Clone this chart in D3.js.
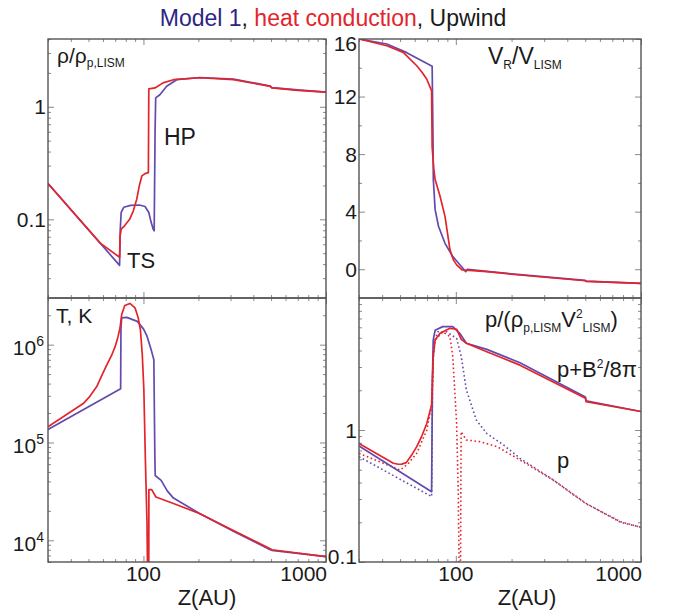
<!DOCTYPE html>
<html>
<head>
<meta charset="utf-8">
<script src="https://cdn.jsdelivr.net/npm/d3@7"></script>
<style>
  body { margin: 0; background: #fff; }
  svg { display: block; }
  text { font-family: "Liberation Sans", Arial, sans-serif; fill: #1a1a1a; }
</style>
</head>
<body>
<div id="chart"></div>
<script>
// values: [Z (AU), value]
const rhoModel = [[30,0.208],[74,0.039],[74.6,0.08],[75.5,0.115],[78,0.128],[85,0.133],[95,0.134],[102,0.13],[107,0.115],[110,0.095],[113,0.082],[114.5,0.079],[115.8,0.6],[116.7,1.2],[123,1.28],[134,1.52],[152,1.74],[204,1.82],[311,1.76],[495,1.53],[505,1.48],[700,1.41],[1000,1.35]];
const rhoHeat = [[30,0.208],[58,0.0614],[74,0.046],[74.4,0.07],[75.5,0.082],[79,0.088],[84,0.1],[88,0.119],[91.9,0.151],[95,0.2],[98,0.243],[102,0.255],[106.4,0.26],[107,1.44],[115.8,1.47],[128,1.63],[146,1.74],[204,1.81],[311,1.74],[495,1.52],[505,1.47],[700,1.4],[1000,1.35]];

const velModel = [[30,16],[42.4,15.65],[54,15.07],[74.5,14.1],[75.3,9],[75.6,6.23],[77.3,4.14],[80.7,2.97],[87.4,1.8],[96.3,0.88],[108,0.14],[113,-0.17],[116,0.0],[147,-0.15],[222,-0.38],[501,-0.78],[505,-0.83],[1000,-0.98]];
const velHeat = [[30,16],[42.4,15.53],[52,15.07],[61.5,14.14],[66,13.65],[69.7,13.2],[74,12.4],[74.5,8.5],[76,7.0],[77.3,6.23],[82.2,5.07],[87.4,3.67],[93,1.35],[97,0.65],[101,0.3],[108,-0.05],[147,-0.17],[222,-0.4],[501,-0.8],[505,-0.85],[1000,-0.98]];

const tempModel = [[30,1.36e5],[75,3.54e5],[75.3,1.5e6],[76,1.88e6],[81,1.9e6],[92.5,1.73e6],[100,1.45e6],[104.6,1.22e6],[110,9e5],[114,7e5],[115.5,7e4],[116,4.6e4],[125,4.1e4],[135,3.2e4],[146,2.7e4],[204,1.87e4],[311,1.24e4],[495,8e3],[505,7.9e3],[1000,6.8e3]];
const tempHeat = [[30,1.45e5],[46.8,2.5e5],[51,2.98e5],[55.5,3.73e5],[59,4.8e5],[63,6.2e5],[67,7.8e5],[70,9.6e5],[72.5,1.2e6],[74.4,1.48e6],[76,2.03e6],[79,2.51e6],[84.3,2.64e6],[89.9,2.38e6],[93.5,1.9e6],[96.2,1.43e6],[98.5,8e5],[100.5,3.5e5],[102.4,7e4],[104.6,1.48e4],[105.8,2e3],[106.4,1e3],[106.9,2e3],[107.1,3.3e4],[111,3.3e4],[117,2.77e4],[146,2.38e4],[204,1.87e4],[311,1.26e4],[495,8.2e3],[505,8e3],[1000,6.8e3]];

const ptotModel = [[30,0.757],[74,0.341],[74.8,2.5],[75.5,4.8],[77.3,5.7],[85,6.07],[96.3,6.07],[105,5.4],[114,4.54],[147,4.08],[222,3.23],[501,1.78],[505,1.66],[1000,1.38]];
const ptotHeat = [[30,0.79],[46,0.56],[48.9,0.55],[51,0.552],[54,0.566],[57.5,0.64],[61.5,0.748],[65.5,0.9],[69.7,1.12],[74,1.55],[74.7,2.26],[75.5,3.6],[77.3,4.8],[82.2,5.4],[93,5.89],[101,5.8],[107,4.86],[114,4.54],[147,3.92],[222,3.1],[501,1.74],[505,1.64],[1000,1.38]];
const pModel = [[30,0.628],[74,0.313],[74.8,2.0],[76,4.5],[80,5.55],[89,5.55],[101,4.95],[107,3.6],[114,2.01],[129,1.19],[147,0.94],[181,0.77],[222,0.61],[335,0.42],[501,0.28],[775,0.2],[1000,0.183]];
const pHeat = [[30,0.666],[50,0.497],[55,0.55],[61.5,0.666],[69.7,1.0],[74,1.55],[75.5,3.6],[77.3,4.8],[85,5.55],[93,5.09],[96.3,3.59],[101,1.12],[103,0.35],[104.3,0.08],[106,0.08],[106.8,0.97],[114,0.84],[135,0.816],[167,0.748],[222,0.593],[335,0.418],[501,0.278],[775,0.202],[1000,0.183]];

const zLabels = [100, 1000];
const rhoLabels = [1, 0.1];
const velLabels = [0, 4, 8, 12, 16];
const velMinor = [-2, 2, 6, 10, 14];
const tempLabels = [6, 5, 4];   // powers of ten
const presLabels = [1, 0.1];

const W = 676, H = 613;
const blue = "#6449ae", red = "#e3252b";
const frameCol = "#555", tickCol = "#8a8a8a";

const svg = d3.select("#chart").append("svg")
    .attr("width", W)
    .attr("height", H);

const xLeft = d3.scaleLog().domain([30, 1000]).range([48, 326]);
const xRight = d3.scaleLog().domain([30, 1000]).range([359, 641]);
const yRho = d3.scaleLog().domain([0.02, 4]).range([298, 39]);
const yVel = d3.scaleLinear().domain([-2, 16]).range([298, 39]);
const yTemp = d3.scaleLog().domain([6e3, 3e6]).range([562, 298]);
const yPres = d3.scaleLog().domain([0.1, 10]).range([562, 298]);

const isDecade = v => Math.abs(Math.log10(v) - Math.round(Math.log10(v))) < 1e-6;

function ticksOnEdges(g, x, y, yMajor, yMinor) {
    const [x0, x1] = x.range();
    const [y1, y0] = y.range();
    const xt = x.ticks();
    const xMajor = xt.filter(isDecade), xMinor = xt.filter(v => !isDecade(v));
    const sets = [[xMajor, 6, yMajor, 6], [xMinor, 3, yMinor, 3]];
    sets.forEach(([xv, xs, yv, ys]) => {
        g.append("g").attr("transform", `translate(0,${y1})`)
            .call(d3.axisBottom(x).tickValues(xv).tickSize(-xs).tickFormat(""));
        g.append("g").attr("transform", `translate(0,${y0})`)
            .call(d3.axisTop(x).tickValues(xv).tickSize(-xs).tickFormat(""));
        g.append("g").attr("transform", `translate(${x0},0)`)
            .call(d3.axisLeft(y).tickValues(yv).tickSize(-ys).tickFormat(""));
        g.append("g").attr("transform", `translate(${x1},0)`)
            .call(d3.axisRight(y).tickValues(yv).tickSize(-ys).tickFormat(""));
    });
    g.selectAll(".domain").remove();
    g.selectAll(".tick line").attr("stroke", tickCol).attr("stroke-width", 1);
}

function panel(id, x, y, yMajor, yMinor, series) {
    const [x0, x1] = x.range();
    const [y1, y0] = y.range();
    const g = svg.append("g");
    g.append("clipPath").attr("id", id)
        .append("rect").attr("x", x0).attr("y", y0).attr("width", x1 - x0).attr("height", y1 - y0);
    ticksOnEdges(g, x, y, yMajor, yMinor);
    const line = d3.line().x(d => x(d[0])).y(d => y(d[1]));
    const lg = g.append("g").attr("clip-path", `url(#${id})`);
    series.forEach(s => {
        lg.append("path")
            .datum(s.data)
            .attr("d", line)
            .attr("fill", "none")
            .attr("stroke", s.color)
            .attr("stroke-width", s.dotted ? 1.6 : 1.7)
            .attr("stroke-dasharray", s.dotted ? "1.6,2.6" : null)
            .attr("stroke-linejoin", "round");
    });
    g.append("rect")
        .attr("x", x0).attr("y", y0)
        .attr("width", x1 - x0).attr("height", y1 - y0)
        .attr("fill", "none")
        .attr("stroke", frameCol)
        .attr("stroke-width", 1.4);
    return g;
}

function yLabel(x, y, v, txt) {
    const [y1, y0] = y.range();
    const yy = Math.max(y0 + 4, Math.min(y1 - 6, y(v)));
    return svg.append("text")
        .attr("x", x.range()[0] - 2)
        .attr("y", yy)
        .attr("dy", "0.36em")
        .attr("text-anchor", "end")
        .attr("font-size", 21)
        .text(txt);
}

// density
const rhoTicks = yRho.ticks();
panel("c1", xLeft, yRho, rhoTicks.filter(isDecade), rhoTicks.filter(v => !isDecade(v)), [
    { data: rhoModel, color: blue },
    { data: rhoHeat, color: red }
]);
rhoLabels.forEach(v => yLabel(xLeft, yRho, v, String(v)));

// velocity
panel("c2", xRight, yVel, velLabels, velMinor, [
    { data: velModel, color: blue },
    { data: velHeat, color: red }
]);
velLabels.forEach(v => yLabel(xRight, yVel, v, String(v)));

// temperature
const tTicks = yTemp.ticks();
panel("c3", xLeft, yTemp, tTicks.filter(isDecade), tTicks.filter(v => !isDecade(v)), [
    { data: tempModel, color: blue },
    { data: tempHeat, color: red }
]);
tempLabels.forEach(e => {
    const t = svg.append("text")
        .attr("x", 48 - 4)
        .attr("y", yTemp(Math.pow(10, e)))
        .attr("dy", "0.5em")
        .attr("text-anchor", "end")
        .attr("font-size", 21);
    t.append("tspan").text("10");
    t.append("tspan").attr("font-size", 14).attr("dy", -9).text(e);
});

// pressure
const pTicks = yPres.ticks();
panel("c4", xRight, yPres, pTicks.filter(isDecade), pTicks.filter(v => !isDecade(v)), [
    { data: pModel, color: blue, dotted: true },
    { data: pHeat, color: red, dotted: true },
    { data: ptotModel, color: blue },
    { data: ptotHeat, color: red }
]);
presLabels.forEach(v => yLabel(xRight, yPres, v, String(v)));

// x tick labels and titles
[xLeft, xRight].forEach((x, i) => {
    zLabels.forEach(v => {
        svg.append("text")
            .attr("x", v === 1000 ? x(v) + 1 : x(v))
            .attr("y", 581)
            .attr("text-anchor", v === 1000 ? "end" : "middle")
            .attr("font-size", 21)
            .text(v);
    });
    svg.append("text")
        .attr("x", i === 0 ? 207 : 527)
        .attr("y", 605)
        .attr("text-anchor", "middle")
        .attr("font-size", 22)
        .text("Z(AU)");
});

// title
const title = svg.append("text")
    .attr("x", 333).attr("y", 26)
    .attr("text-anchor", "middle")
    .attr("font-size", 23);
title.append("tspan").style("fill", "#2d2583").text("Model 1");
title.append("tspan").text(", ");
title.append("tspan").style("fill", red).text("heat conduction");
title.append("tspan").text(", Upwind");

// panel annotations
const a1 = svg.append("text").attr("x", 57).attr("y", 63).attr("font-size", 21);
a1.append("tspan").text("ρ/ρ");
a1.append("tspan").attr("font-size", 12).attr("dy", 4).text("p,LISM");

svg.append("text").attr("x", 164).attr("y", 145).attr("font-size", 23).text("HP");
svg.append("text").attr("x", 127).attr("y", 268).attr("font-size", 22).text("TS");

const a2 = svg.append("text").attr("x", 488).attr("y", 64).attr("font-size", 23);
a2.append("tspan").text("V");
a2.append("tspan").attr("font-size", 12).attr("dy", 5).text("R");
a2.append("tspan").attr("dy", -5).text("/V");
a2.append("tspan").attr("font-size", 12).attr("dy", 5).text("LISM");

svg.append("text").attr("x", 56).attr("y", 323).attr("font-size", 21).text("T, K");

const a3 = svg.append("text").attr("x", 485).attr("y", 327).attr("font-size", 22);
a3.append("tspan").text("p/(ρ");
a3.append("tspan").attr("font-size", 12).attr("dy", 5).text("p,LISM");
a3.append("tspan").attr("dy", -5).text("V");
a3.append("tspan").attr("font-size", 12).attr("dy", -9).text("2");
a3.append("tspan").attr("font-size", 12).attr("dy", 14).text("LISM");
a3.append("tspan").attr("dy", -5).text(")");

const a4 = svg.append("text").attr("x", 557).attr("y", 377).attr("font-size", 22);
a4.append("tspan").text("p+B");
a4.append("tspan").attr("font-size", 12).attr("dy", -9).text("2");
a4.append("tspan").attr("dy", 9).text("/8π");

svg.append("text").attr("x", 557).attr("y", 468).attr("font-size", 22).text("p");
</script>
</body>
</html>
